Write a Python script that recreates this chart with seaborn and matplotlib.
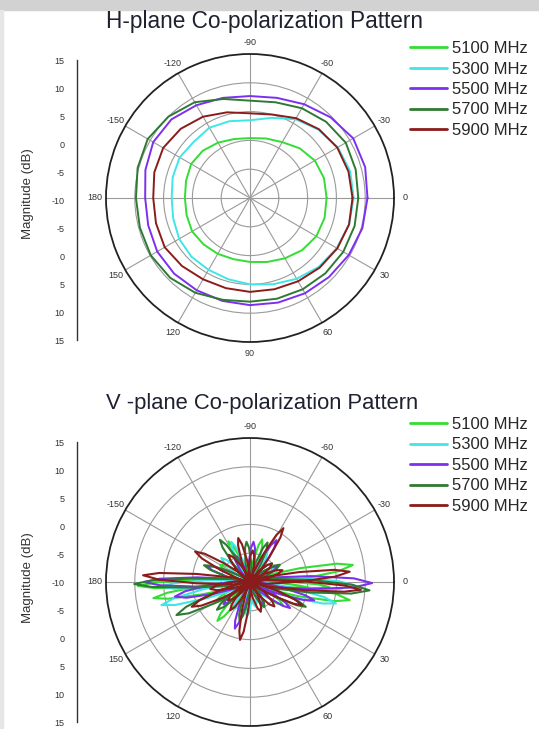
import numpy as np
import matplotlib
matplotlib.use("Agg")
import matplotlib.pyplot as plt
import seaborn as sns
from matplotlib.patches import Rectangle

sns.set_style("white")
plt.rcParams['font.family'] = ['Liberation Sans', 'DejaVu Sans']

# ---- data -------------------------------------------------------------
FREQS = ["5100 MHz", "5300 MHz", "5500 MHz", "5700 MHz", "5900 MHz"]
COLORS = ["#33dd33", "#40e6e6", "#7d2ff0", "#2f7a32", "#8a1c1c"]

# H-plane: magnitude (dB) every 15 deg (0 = right, angles grow clockwise)
h_angles = [0, 15, 30, 45, 60, 75, 90, 105, 120, 135, 150, 165,
            180, 195, 210, 225, 240, 255, 270, 285, 300, 315, 330, 345]
h_5100 = [3.3, 3.4, 3.3, 2.8, 2.1, 1.5, 1.1, 1.0, 1.2, 1.4, 1.6, 1.4,
          1.3, 1.5, 1.8, 1.6, 1.1, 0.6, 0.4, 0.7, 1.2, 2.2, 3.0, 3.3]
h_5300 = [8.0, 7.8, 7.4, 6.9, 6.2, 5.5, 5.0, 4.6, 4.4, 4.4, 4.2, 3.8,
          3.6, 3.9, 4.1, 3.8, 4.1, 3.8, 3.5, 4.4, 5.8, 6.8, 7.6, 8.0]
h_5500 = [10.4, 10.2, 9.8, 9.4, 9.1, 8.8, 8.6, 8.5, 8.5, 8.6, 8.6, 8.3,
          8.2, 8.8, 9.4, 9.3, 8.6, 8.0, 7.7, 8.0, 8.8, 9.8, 10.7, 10.7]
h_5700 = [8.8, 8.8, 8.7, 8.5, 8.3, 8.1, 8.0, 8.3, 9.0, 9.6, 9.9, 9.8,
          9.8, 10.2, 10.5, 10.0, 9.2, 7.8, 6.9, 7.2, 8.0, 8.7, 9.2, 9.0]
h_5900 = [7.8, 7.8, 7.5, 7.1, 6.7, 6.4, 6.3, 6.2, 6.3, 6.7, 7.1, 6.9,
          6.8, 7.2, 7.4, 7.0, 6.3, 5.4, 4.7, 5.0, 6.0, 6.9, 7.5, 7.7]

# V-plane: lobes -> direction (deg), peak (dB), beamwidth (deg)
v_ang_5100 = [-150, -118, -74, -40, -9.4, 3.6, 10.3, 35, 60, 95, 130, 150, 170.5, 178]
v_pk_5100 = [-4, -2.0, -2.3, -5, 8.1, 3.8, 7.6, -3, -5, -5, -1.2, -3, 7.0, 9.5]
v_bw_5100 = [20, 14, 14, 20, 12, 8, 12, 16, 20, 20, 14, 16, 10, 8]

v_ang_5300 = [-140, -115, -60, -30, 2, 14, 40, 77, 95, 120, 165.4, 177]
v_pk_5300 = [-3.5, -2.3, -4, -5, 8.2, 5.4, -6, -5.6, -4, -4.5, 5.9, 5.5]
v_bw_5300 = [16, 14, 18, 20, 12, 12, 22, 24, 20, 18, 12, 10]

v_ang_5500 = [-160, -120, -85, -57.6, -30, 0.5, 16, 33, 60, 108, 140, 169, 180]
v_pk_5500 = [-2, -4.5, -3, -1.4, -4.5, 11.2, 1.6, -1.7, -5.5, -1.5, -4, 3.3, 8.4]
v_bw_5500 = [14, 18, 16, 14, 18, 12, 12, 14, 20, 14, 18, 14, 10]

v_ang_5700 = [-160, -125.5, -95, -66, -30, 4, 24, 60, 105, 140, 155.8, 179]
v_pk_5700 = [-1.5, -1.0, -3, -2.5, -4, 10.8, 0.6, -5, -3, -2.5, 4.0, 10.1]
v_bw_5700 = [14, 14, 16, 14, 18, 12, 12, 20, 16, 16, 14, 9]

v_ang_5900 = [-176.4, -151, -128, -105, -85, -58.2, -40, -20, -5.9, 4, 24, 45, 70,
              99.8, 125, 140, 157, 170]
v_pk_5900 = [8.6, 0.9, -4, -2.1, -4.5, 1.0, -5, -4, 7.4, 9.3, -0.1, -4, -4.5,
             0.2, -4, -5, 1.0, -3]
v_bw_5900 = [10, 14, 20, 14, 18, 12, 20, 18, 11, 9, 12, 20, 20, 12, 18, 20, 14, 18]

R_MIN, R_MAX = -10, 15
THETA_LABELS = ["0", "30", "60", "90", "120", "150", "180", "-150", "-120", "-90", "-60", "-30"]

# petal outline (fraction along lobe, fraction of half width)
PETAL = [(0, 0), (0.15, -0.71), (0.5, -1), (0.85, -0.71), (1, 0),
         (0.85, 0.71), (0.5, 1), (0.15, 0.71)]


def lobes_to_curve(angles, peaks, widths):
    th, rr = [], []
    for c, p, bw in sorted(zip(angles, peaks, widths)):
        length = p - R_MIN
        half = 0.5 * length * np.tan(np.deg2rad(bw / 2))
        for f, s in PETAL:
            d, o = f * length, s * half
            th.append(np.deg2rad(c) + (np.arctan2(o, d) if d else 0))
            rr.append(R_MIN + np.hypot(d, o))
    th.append(th[0])
    rr.append(R_MIN)
    return np.array(th), np.array(rr)


def style_polar(ax):
    ax.set_theta_zero_location("E")
    ax.set_theta_direction(-1)
    ax.set_rlim(R_MIN, R_MAX)
    ax.set_rticks([-5, 0, 5, 10])
    ax.set_yticklabels([])
    ax.set_thetagrids(np.arange(0, 360, 30), labels=THETA_LABELS)
    ax.set_xticks(np.deg2rad(np.arange(15, 360, 30)), minor=True)
    ax.tick_params(axis="x", which="major", labelsize=6.5, pad=1, direction="in",
                   length=4, width=0.8, colors="#333333")
    ax.tick_params(axis="x", which="minor", direction="in", length=3, width=0.8, color="#333333")
    ax.grid(True, color="#9a9a9a", lw=0.8)
    ax.spines["polar"].set_color("#222222")
    ax.spines["polar"].set_linewidth(1.3)
    ax.set_xlabel("")
    ax.set_ylabel("")


def scale_axis(fig, rect):
    # the mirrored magnitude scale drawn left of each polar plot
    sax = fig.add_axes(rect)
    sax.set_ylim(-25, 25)
    ticks = np.arange(-25, 26, 5)
    sax.set_yticks(ticks)
    sax.set_yticklabels([str(abs(t) + R_MIN) for t in ticks])
    sax.set_xticks([])
    for side in ["top", "right", "bottom"]:
        sax.spines[side].set_visible(False)
    sax.spines["left"].set_color("#333333")
    sax.spines["left"].set_linewidth(1.0)
    sax.tick_params(axis="y", direction="out", length=4, width=0.8, labelsize=6.5,
                    pad=5, colors="#333333")
    sax.patch.set_alpha(0)
    return sax


def add_legend(ax, top_px):
    leg = ax.legend(loc="upper left", bbox_to_anchor=(410 / W, 1 - top_px / H),
                    bbox_transform=fig.transFigure, frameon=False, fontsize=12,
                    handlelength=2.2, handletextpad=0.3, labelspacing=0.33,
                    borderpad=0, borderaxespad=0)
    for line in leg.get_lines():
        line.set_linewidth(2)


fig = plt.figure(figsize=(5.39, 7.29), dpi=100)
W, H = 539, 729

# screenshot frame bits
fig.patches.append(Rectangle((0, 1 - 10 / H), 1, 10 / H, transform=fig.transFigure,
                             color="#d2d2d2", zorder=0))
fig.patches.append(Rectangle((0, 0), 3 / W, 1 - 10 / H, transform=fig.transFigure,
                             color="#e6e6e6", zorder=0))

h_rect = [106 / W, (H - 198 - 144) / H, 288 / W, 288 / H]
v_rect = [106 / W, (H - 582 - 144) / H, 288 / W, 288 / H]

# ---- H-plane ----------------------------------------------------------
ax_h = fig.add_axes(h_rect, projection="polar")
h_series = [h_5100, h_5300, h_5500, h_5700, h_5900]
for name, col, vals in zip(FREQS, COLORS, h_series):
    th = np.deg2rad(h_angles + [h_angles[0]])
    rr = vals + [vals[0]]
    sns.lineplot(x=th, y=rr, sort=False, estimator=None, ax=ax_h, color=col,
                 lw=1.4, label=name)
style_polar(ax_h)
add_legend(ax_h, 41)

# ---- V-plane ----------------------------------------------------------
ax_v = fig.add_axes(v_rect, projection="polar")
v_series = [(v_ang_5100, v_pk_5100, v_bw_5100), (v_ang_5300, v_pk_5300, v_bw_5300),
            (v_ang_5500, v_pk_5500, v_bw_5500), (v_ang_5700, v_pk_5700, v_bw_5700),
            (v_ang_5900, v_pk_5900, v_bw_5900)]
for name, col, (a, p, b) in zip(FREQS, COLORS, v_series):
    th, rr = lobes_to_curve(a, p, b)
    sns.lineplot(x=th, y=rr, sort=False, estimator=None, ax=ax_v, color=col,
                 lw=1.5, label=name)
style_polar(ax_v)
add_legend(ax_v, 417)

# ---- magnitude scales and titles --------------------------------------
for center, yc in [(200, 194), (582, 578)]:
    scale_axis(fig, [77 / W, (H - center - 140) / H, 0.002, 280 / H])
    fig.text(28 / W, 1 - yc / H, "Magnitude (dB)", rotation=90, ha="center",
             va="center", fontsize=9.5, color="#333333")

fig.text(264 / W, 1 - 28 / H, "H-plane Co-polarization Pattern", ha="center",
         va="baseline", fontsize=16.3, color="#1e2130")
fig.text(262 / W, 1 - 409 / H, "V -plane Co-polarization Pattern", ha="center",
         va="baseline", fontsize=15.8, color="#1e2130")

fig.savefig("out.png", dpi=100)
